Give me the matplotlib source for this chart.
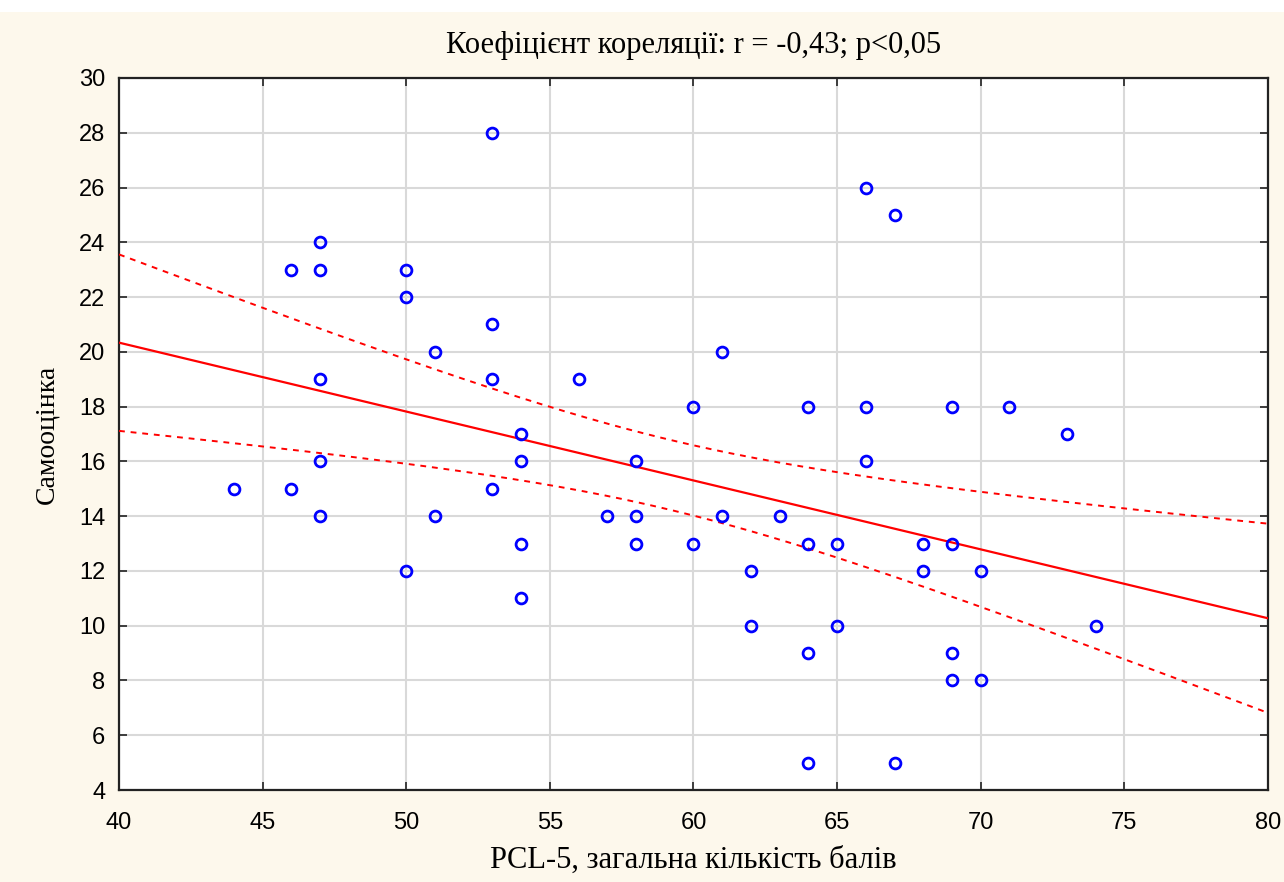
import numpy as np
import matplotlib.pyplot as plt
from matplotlib.patches import Rectangle

# PCL-5 total score vs self-esteem score
pcl5 = np.array([44, 46, 46, 47, 47, 47, 47, 47, 50, 50, 50, 51, 51,
                 53, 53, 53, 53, 54, 54, 54, 54, 56, 57, 58, 58, 58,
                 60, 60, 61, 61, 62, 62, 63, 64, 64, 64, 64, 65, 65,
                 66, 66, 66, 67, 67, 68, 68, 69, 69, 69, 69, 70, 70,
                 71, 73, 74])
self_esteem = np.array([15, 23, 15, 24, 23, 19, 16, 14, 23, 22, 12, 20, 14,
                        28, 21, 19, 15, 17, 16, 13, 11, 19, 14, 16, 14, 13,
                        18, 13, 20, 14, 12, 10, 14, 18, 13, 9, 5, 13, 10,
                        26, 18, 16, 25, 5, 13, 12, 18, 13, 9, 8, 12, 8,
                        18, 17, 10])

title = "Коефіцієнт кореляції: r = -0,43; p<0,05"
xlabel = "PCL-5, загальна кількість балів"
ylabel = "Самооцінка"

# linear fit and 95% confidence band for the mean
n = len(pcl5)
slope, intercept = np.polyfit(pcl5, self_esteem, 1)
resid = self_esteem - (slope * pcl5 + intercept)
s = np.sqrt(np.sum(resid ** 2) / (n - 2))
xm = pcl5.mean()
sxx = np.sum((pcl5 - xm) ** 2)
xx = np.linspace(40, 80, 200)
yy = slope * xx + intercept
t = 2.006  # t(0.975, n-2)
half = t * s * np.sqrt(1 / n + (xx - xm) ** 2 / sxx)

bg = '#fdf8ec'
fig = plt.figure(figsize=(12.84, 8.82), dpi=100, facecolor=bg)
# white strip along the top edge, as in the screenshot
fig.patches.append(Rectangle((0, 1 - 12 / 882), 1, 12 / 882, transform=fig.transFigure,
                             facecolor='white', edgecolor='none', zorder=0))
ax = fig.add_axes([0.0927, 0.1043, 0.8948, 0.8073])
ax.set_facecolor('white')

ax.plot(xx, yy, color='red', lw=1.6, zorder=3)
ax.plot(xx, yy + half, color='red', lw=1.4, ls=(0, (3, 3)), zorder=3)
ax.plot(xx, yy - half, color='red', lw=1.4, ls=(0, (3, 3)), zorder=3)
ax.plot(pcl5, self_esteem, 'o', ms=7.8, mfc='none', mec='blue', mew=2, zorder=4)

ax.set_xlim(40, 80)
ax.set_ylim(4, 30)
ax.set_xticks(np.arange(40, 81, 5))
ax.set_yticks(np.arange(4, 31, 2))
ax.grid(True, color='#d9d9d9', lw=1.5)
ax.set_axisbelow(True)
ax.tick_params(direction='in', top=True, right=True, length=6, width=1.2,
               labelsize=17, pad=10, colors='#222222', labelcolor='black')
ax.tick_params(axis='x', pad=16)
for lab in ax.get_xticklabels() + ax.get_yticklabels():
    lab.set_family('Liberation Sans')
for sp in ax.spines.values():
    sp.set_linewidth(1.6)
    sp.set_color('#222222')

ax.set_title(title, family='Liberation Serif', fontsize=22, pad=18)
ax.set_xlabel(xlabel, family='Liberation Serif', fontsize=22, labelpad=8)
ax.set_ylabel(ylabel, family='Liberation Serif', fontsize=20, labelpad=14)

fig.savefig('out.png', dpi=100, facecolor=bg)
